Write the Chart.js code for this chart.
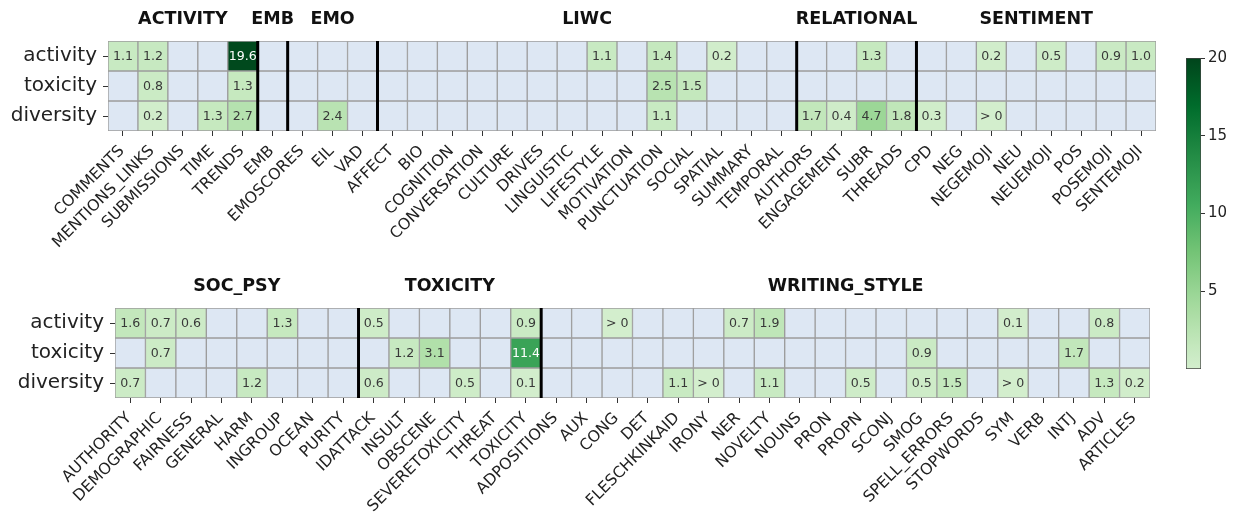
<!DOCTYPE html>
<html><head><meta charset="utf-8">
<script src="https://cdn.jsdelivr.net/npm/chart.js@4.4.0/dist/chart.umd.min.js"></script>
<style>
html,body{margin:0;padding:0;background:#fff;width:1233px;height:516px;overflow:hidden;position:relative}
canvas{position:absolute}
</style></head><body>
<canvas id="topChart" style="left:0;top:0" width="1170" height="262"></canvas>
<canvas id="bottomChart" style="left:0;top:262px" width="1170" height="254"></canvas>
<canvas id="cbar" style="left:1150px;top:40px" width="83" height="345"></canvas>
<script>
// ---------- data ----------
const rowNames = ['activity', 'toxicity', 'diversity'];

const topCategories = ['COMMENTS','MENTIONS_LINKS','SUBMISSIONS','TIME','TRENDS','EMB','EMOSCORES','EIL','VAD',
  'AFFECT','BIO','COGNITION','CONVERSATION','CULTURE','DRIVES','LINGUISTIC','LIFESTYLE','MOTIVATION','PUNCTUATION',
  'SOCIAL','SPATIAL','SUMMARY','TEMPORAL','AUTHORS','ENGAGEMENT','SUBR','THREADS','CPD','NEG','NEGEMOJI','NEU',
  'NEUEMOJI','POS','POSEMOJI','SENTEMOJI'];
const topGroups = ['ACTIVITY','EMB','EMO','LIWC','RELATIONAL','SENTIMENT'];
const topGroupSizes = [5, 1, 3, 14, 4, 8];
const topActivity  = [1.1,1.2,null,null,19.6, null, null,null,null, null,null,null,null,null,null,null,1.1,null,1.4,null,0.2,null,null, null,null,1.3,null, null,null,0.2,null,0.5,null,0.9,1.0];
const topToxicity  = [null,0.8,null,null,1.3, null, null,null,null, null,null,null,null,null,null,null,null,null,2.5,1.5,null,null,null, null,null,null,null, null,null,null,null,null,null,null,null];
const topDiversity = [null,0.2,null,1.3,2.7, null, null,2.4,null, null,null,null,null,null,null,null,null,null,1.1,null,null,null,null, 1.7,0.4,4.7,1.8, 0.3,null,0.01,null,null,null,null,null];

const bottomCategories = ['AUTHORITY','DEMOGRAPHIC','FAIRNESS','GENERAL','HARM','INGROUP','OCEAN','PURITY',
  'IDATTACK','INSULT','OBSCENE','SEVERETOXICITY','THREAT','TOXICITY','ADPOSITIONS','AUX','CONG','DET',
  'FLESCHKINKAID','IRONY','NER','NOVELTY','NOUNS','PRON','PROPN','SCONJ','SMOG','SPELL_ERRORS','STOPWORDS',
  'SYM','VERB','INTJ','ADV','ARTICLES'];
const bottomGroups = ['SOC_PSY','TOXICITY','WRITING_STYLE'];
const bottomGroupSizes = [8, 6, 20];
const bottomActivity  = [1.6,0.7,0.6,null,null,1.3,null,null, 0.5,null,null,null,null,0.9, null,null,0.01,null,null,null,0.7,1.9,null,null,null,null,null,null,null,0.1,null,null,0.8,null];
const bottomToxicity  = [null,0.7,null,null,null,null,null,null, null,1.2,3.1,null,null,11.4, null,null,null,null,null,null,null,null,null,null,null,null,0.9,null,null,null,null,1.7,null,null];
const bottomDiversity = [0.7,null,null,null,1.2,null,null,null, 0.6,null,null,0.5,null,0.1, null,null,null,null,1.1,0.01,null,1.1,null,null,0.5,null,0.5,1.5,null,0.01,null,null,1.3,0.2];

const colorRange = [0, 20];
const colorbarTicks = [5, 10, 15, 20];

// ---------- styling helpers ----------
const FONT = 'DejaVu Sans';
Chart.defaults.font.family = FONT;
const BLANK = '#dde7f3';
const GREENS = [[247,252,245],[229,245,224],[199,233,192],[161,217,155],[116,196,118],[65,171,93],[35,139,69],[0,109,44],[0,68,27]];
function greensRGB(t){
  t = Math.min(1, Math.max(0, t));
  const p = t * 8, i = Math.min(7, Math.floor(p)), f = p - i;
  const a = GREENS[i], b = GREENS[i+1];
  return [0,1,2].map(k => Math.round(a[k] + (b[k]-a[k]) * f));
}
function cmapT(v){ return 0.2 + 0.8 * Math.min(1, Math.max(0, (v - colorRange[0]) / (colorRange[1] - colorRange[0]))); }
function rgbCss(c){ return `rgb(${c[0]},${c[1]},${c[2]})`; }
function cellColor(v){ return v == null ? BLANK : rgbCss(greensRGB(cmapT(v))); }
function textColor(v){
  const c = greensRGB(cmapT(v)).map(x => { x /= 255; return x <= 0.03928 ? x/12.92 : Math.pow((x+0.055)/1.055, 2.4); });
  const lum = 0.2126*c[0] + 0.7152*c[1] + 0.0722*c[2];
  return lum > 0.408 ? '#383838' : '#ffffff';
}
function cellText(v){ return v < 0.05 ? '> 0' : v.toFixed(1); }

function makeHeatmap(id, categories, rows, groups, groupSizes, yWidth, pad, xHeight){
  const decor = {
    id: 'decor' + id,
    afterDatasetsDraw(chart){
      const ctx = chart.ctx, xs = chart.scales.x, area = chart.chartArea;
      ctx.save();
      ctx.font = `12.6px ${FONT}`;
      ctx.textAlign = 'center';
      ctx.textBaseline = 'middle';
      rows.forEach((vals, r) => {
        const meta = chart.getDatasetMeta(r);
        vals.forEach((v, j) => {
          if (v == null) return;
          const el = meta.data[j];
          ctx.fillStyle = textColor(v);
          ctx.fillText(cellText(v), el.x, (el.y + el.base) / 2 + 0.5);
        });
      });
      const half = (xs.getPixelForValue(1) - xs.getPixelForValue(0)) / 2;
      let start = 0;
      ctx.font = `bold 17.5px ${FONT}`;
      ctx.fillStyle = '#111';
      groups.forEach((g, gi) => {
        const end = start + groupSizes[gi];
        const cx = (xs.getPixelForValue(start) + xs.getPixelForValue(end - 1)) / 2;
        ctx.fillText(g, cx, area.top - 22);
        if (gi < groups.length - 1) {
          const bx = xs.getPixelForValue(end - 1) + half;
          ctx.strokeStyle = '#000';
          ctx.lineWidth = 3;
          ctx.beginPath();
          ctx.moveTo(bx, area.top);
          ctx.lineTo(bx, area.bottom);
          ctx.stroke();
        }
        start = end;
      });
      ctx.restore();
    }
  };
  return new Chart(document.getElementById(id), {
    type: 'bar',
    data: {
      labels: categories,
      datasets: rows.map((vals, r) => ({
        label: rowNames[r],
        data: vals.map(() => [r - 0.5, r + 0.5]),
        backgroundColor: vals.map(cellColor),
        borderColor: '#9c9c9c',
        borderWidth: 1,
        borderSkipped: false,
        grouped: false,
        barPercentage: 1,
        categoryPercentage: 1
      }))
    },
    options: {
      responsive: false,
      animation: false,
      layout: { padding: pad },
      plugins: { legend: { display: false }, tooltip: { enabled: false } },
      scales: {
        x: {
          type: 'category',
          offset: true,
          grid: { offset: false, drawOnChartArea: false, drawTicks: true, tickLength: 5, color: '#333' },
          border: { display: false },
          ticks: { autoSkip: false, minRotation: 45, maxRotation: 45, color: '#222', padding: 6, labelOffset: -1, font: { size: 15.7 } },
          afterFit(s){ s.height = xHeight; }
        },
        y: {
          type: 'linear',
          min: -0.5, max: 2.5,
          reverse: true,
          afterBuildTicks(s){ s.ticks = rowNames.map((_, i) => ({ value: i })); },
          grid: { drawOnChartArea: false, drawTicks: true, tickLength: 5, color: '#333' },
          border: { display: false },
          ticks: { callback: v => rowNames[v], color: '#222', padding: 6, font: { size: 20 } },
          afterFit(s){ s.width = yWidth; }
        }
      }
    },
    plugins: [decor]
  });
}

makeHeatmap('topChart', topCategories, [topActivity, topToxicity, topDiversity], topGroups, topGroupSizes,
  108, { top: 41, right: 14, left: 0, bottom: 0 }, 131);
makeHeatmap('bottomChart', bottomCategories, [bottomActivity, bottomToxicity, bottomDiversity], bottomGroups, bottomGroupSizes,
  115, { top: 46, right: 20, left: 0, bottom: 0 }, 118);

// ---------- colorbar ----------
new Chart(document.getElementById('cbar'), {
  type: 'bar',
  data: {
    labels: [''],
    datasets: [{
      data: [colorRange],
      backgroundColor(ctx){
        const a = ctx.chart.chartArea;
        if (!a) return '#ccc';
        const g = ctx.chart.ctx.createLinearGradient(0, a.bottom, 0, a.top);
        for (let i = 0; i <= 40; i++) g.addColorStop(i / 40, rgbCss(greensRGB(0.2 + 0.8 * i / 40)));
        return g;
      },
      borderColor: '#444',
      borderWidth: 1,
      borderSkipped: false,
      barPercentage: 1,
      categoryPercentage: 1
    }]
  },
  options: {
    responsive: false,
    animation: false,
    layout: { padding: { left: 36, top: 18, bottom: 16, right: 0 } },
    plugins: { legend: { display: false }, tooltip: { enabled: false } },
    scales: {
      x: { display: false },
      y: {
        position: 'right',
        min: colorRange[0], max: colorRange[1],
        afterBuildTicks(s){ s.ticks = colorbarTicks.map(v => ({ value: v })); },
        grid: { drawOnChartArea: false, drawTicks: true, tickLength: 4, color: '#333' },
        border: { display: false },
        ticks: { color: '#222', padding: 3, font: { size: 15 } },
        afterFit(s){ s.width = 32; }
      }
    }
  }
});
</script>
</body></html>
